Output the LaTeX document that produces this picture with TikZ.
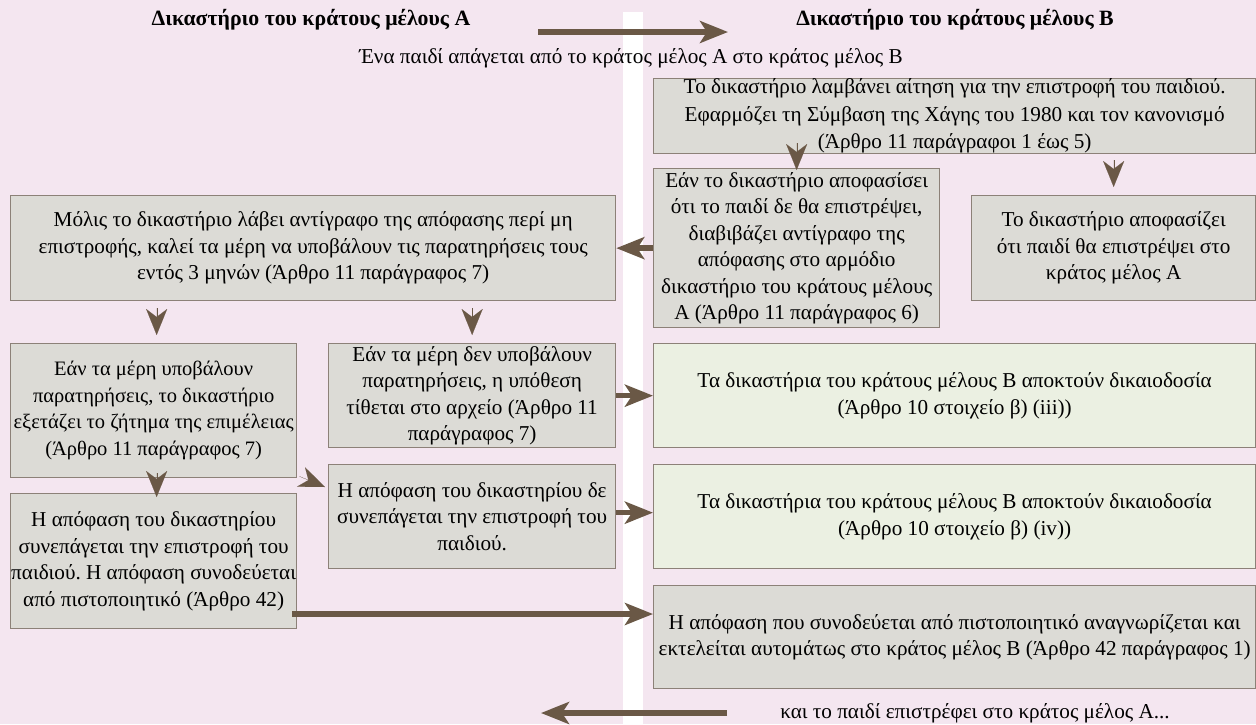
\documentclass[tikz,border=0pt]{standalone}
\usepackage{fontspec}
\setmainfont{Liberation Serif}
\frenchspacing
\usetikzlibrary{arrows.meta}
\definecolor{bgpink}{HTML}{F4E6F0}
\definecolor{boxgray}{HTML}{DCDBD6}
\definecolor{boxline}{HTML}{8C8178}
\definecolor{boxgreen}{HTML}{EBF0E2}
\definecolor{arrbrown}{HTML}{6A5846}
\begin{document}
\begin{tikzpicture}[x=1pt,y=-1pt,
  box/.style={draw=boxline, line width=1.3pt, fill=boxgray, inner sep=0pt, align=center,
    font=\fontsize{21.2}{26.5}\selectfont, anchor=north west},
  gbox/.style={box, fill=boxgreen},
  head/.style={font=\bfseries\fontsize{21.8}{24}\selectfont, inner sep=0pt},
  plain/.style={font=\fontsize{21.2}{24}\selectfont, inner sep=0pt},
  arr/.style={draw=arrbrown, line width=5.5pt, -{Stealth[length=28pt,width=22pt,inset=7pt]}},
  tiponly/.style={draw=arrbrown, fill=arrbrown, line width=0.1pt, -{Stealth[length=26pt,width=21pt,inset=8pt]}},
]
\useasboundingbox (0,0) rectangle (1256,724);
\fill[bgpink] (0,0) rectangle (1256,724);
\fill[white] (623,12) rectangle (643,724);

% headers
\node[head] (hA) at (311,20) {Δικαστήριο του κράτους μέλους Α};
\node[head] (hB) at (955,20) {Δικαστήριο του κράτους μέλους Β};
\node[plain] (sub) at (631,58) {Ένα παιδί απάγεται από το κράτος μέλος Α στο κράτος μέλος Β};
\coordinate (t1) at (538,32);
\coordinate (t2) at (728,32);
\draw[arr] (t1) -- (t2);

% boxes
\node[box, minimum width=602pt, minimum height=75pt, font=\fontsize{21.2}{27.5}\selectfont] (b1) at (653,78)
  {Το δικαστήριο λαμβάνει αίτηση για την επιστροφή του παιδιού.\\
   Εφαρμόζει τη Σύμβαση της Χάγης του 1980 και τον κανονισμό\\
   (Άρθρο 11 παράγραφοι 1 έως 5)};
\node[box, minimum width=286pt, minimum height=159pt] (b2) at (653,168)
  {Εάν το δικαστήριο αποφασίσει\\ ότι το παιδί δε θα επιστρέψει,\\ διαβιβάζει αντίγραφο της\\
   απόφασης στο αρμόδιο\\ δικαστήριο του κράτους μέλους\\ Α (Άρθρο 11 παράγραφος 6)};
\node[box, minimum width=284pt, minimum height=105pt] (b3) at (971,195)
  {Το δικαστήριο αποφασίζει\\ ότι παιδί θα επιστρέψει στο\\ κράτος μέλος Α};
\node[box, minimum width=605pt, minimum height=105pt] (bM) at (10,195)
  {Μόλις το δικαστήριο λάβει αντίγραφο της απόφασης περί μη\\
   επιστροφής, καλεί τα μέρη να υποβάλουν τις παρατηρήσεις τους\\
   εντός 3 μηνών (Άρθρο 11 παράγραφος 7)};
\node[box, minimum width=286pt, minimum height=134pt, font=\fontsize{20.5}{26.5}\selectfont] (b4) at (10,343)
  {Εάν τα μέρη υποβάλουν\\ παρατηρήσεις, το δικαστήριο\\ εξετάζει το ζήτημα της επιμέλειας\\ (Άρθρο 11 παράγραφος 7)};
\node[box, minimum width=287pt, minimum height=104pt] (b5) at (328,343)
  {Εάν τα μέρη δεν υποβάλουν\\ παρατηρήσεις, η υπόθεση\\ τίθεται στο αρχείο (Άρθρο 11\\ παράγραφος 7)};
\node[gbox, minimum width=602pt, minimum height=104pt] (g6) at (653,343)
  {Τα δικαστήρια του κράτους μέλους Β αποκτούν δικαιοδοσία\\ (Άρθρο 10 στοιχείο β) (iii))};
\node[box, minimum width=287pt, minimum height=104pt] (b7) at (328,464)
  {Η απόφαση του δικαστηρίου δε\\ συνεπάγεται την επιστροφή του\\ παιδιού.};
\node[gbox, minimum width=602pt, minimum height=104pt] (g8) at (653,464)
  {Τα δικαστήρια του κράτους μέλους Β αποκτούν δικαιοδοσία\\ (Άρθρο 10 στοιχείο β) (iv))};
\node[box, minimum width=286pt, minimum height=135pt] (b9) at (10,493)
  {Η απόφαση του δικαστηρίου\\ συνεπάγεται την επιστροφή του\\ παιδιού. Η απόφαση συνοδεύεται\\ από πιστοποιητικό (Άρθρο 42)};
\node[box, minimum width=602pt, minimum height=103pt] (b10) at (653,585)
  {Η απόφαση που συνοδεύεται από πιστοποιητικό αναγνωρίζεται και\\
   εκτελείται αυτομάτως στο κράτος μέλος Β (Άρθρο 42 παράγραφος 1)};

\node[plain] (ret) at (975,713) {και το παιδί επιστρέφει στο κράτος μέλος Α...};

% connectors
\draw[tiponly] ([yshift=25pt]b2.north) -- ([yshift=-2pt]b2.north);
\draw[tiponly] ([yshift=35pt]b3.north) -- ([yshift=8pt]b3.north);
\draw[arr] (b2.west) -- (bM.east);
\draw[tiponly] ([xshift=3pt,yshift=35pt]b4.north) -- ([xshift=3pt,yshift=8pt]b4.north);
\draw[tiponly] ([yshift=35pt]b5.north) -- ([yshift=8pt]b5.north);
\draw[arr] (b5.east) -- (g6.west);
\draw[arr] ([yshift=4pt]b7.east) -- ([yshift=4pt]g8.west);
\draw[tiponly] ([xshift=3pt,yshift=20pt]b9.north) -- ([xshift=3pt,yshift=-4pt]b9.north);
\draw[tiponly] ([xshift=2pt,yshift=2pt]b4.south east) -- ([xshift=-3pt,yshift=-23pt]b7.north west);
\coordinate (s9) at (292,614);
\draw[arr] (s9) -- (s9 -| b10.west);
\coordinate (r1) at (727,713);
\coordinate (r2) at (541,713);
\draw[arr] (r1) -- (r2);
\end{tikzpicture}
\end{document}
